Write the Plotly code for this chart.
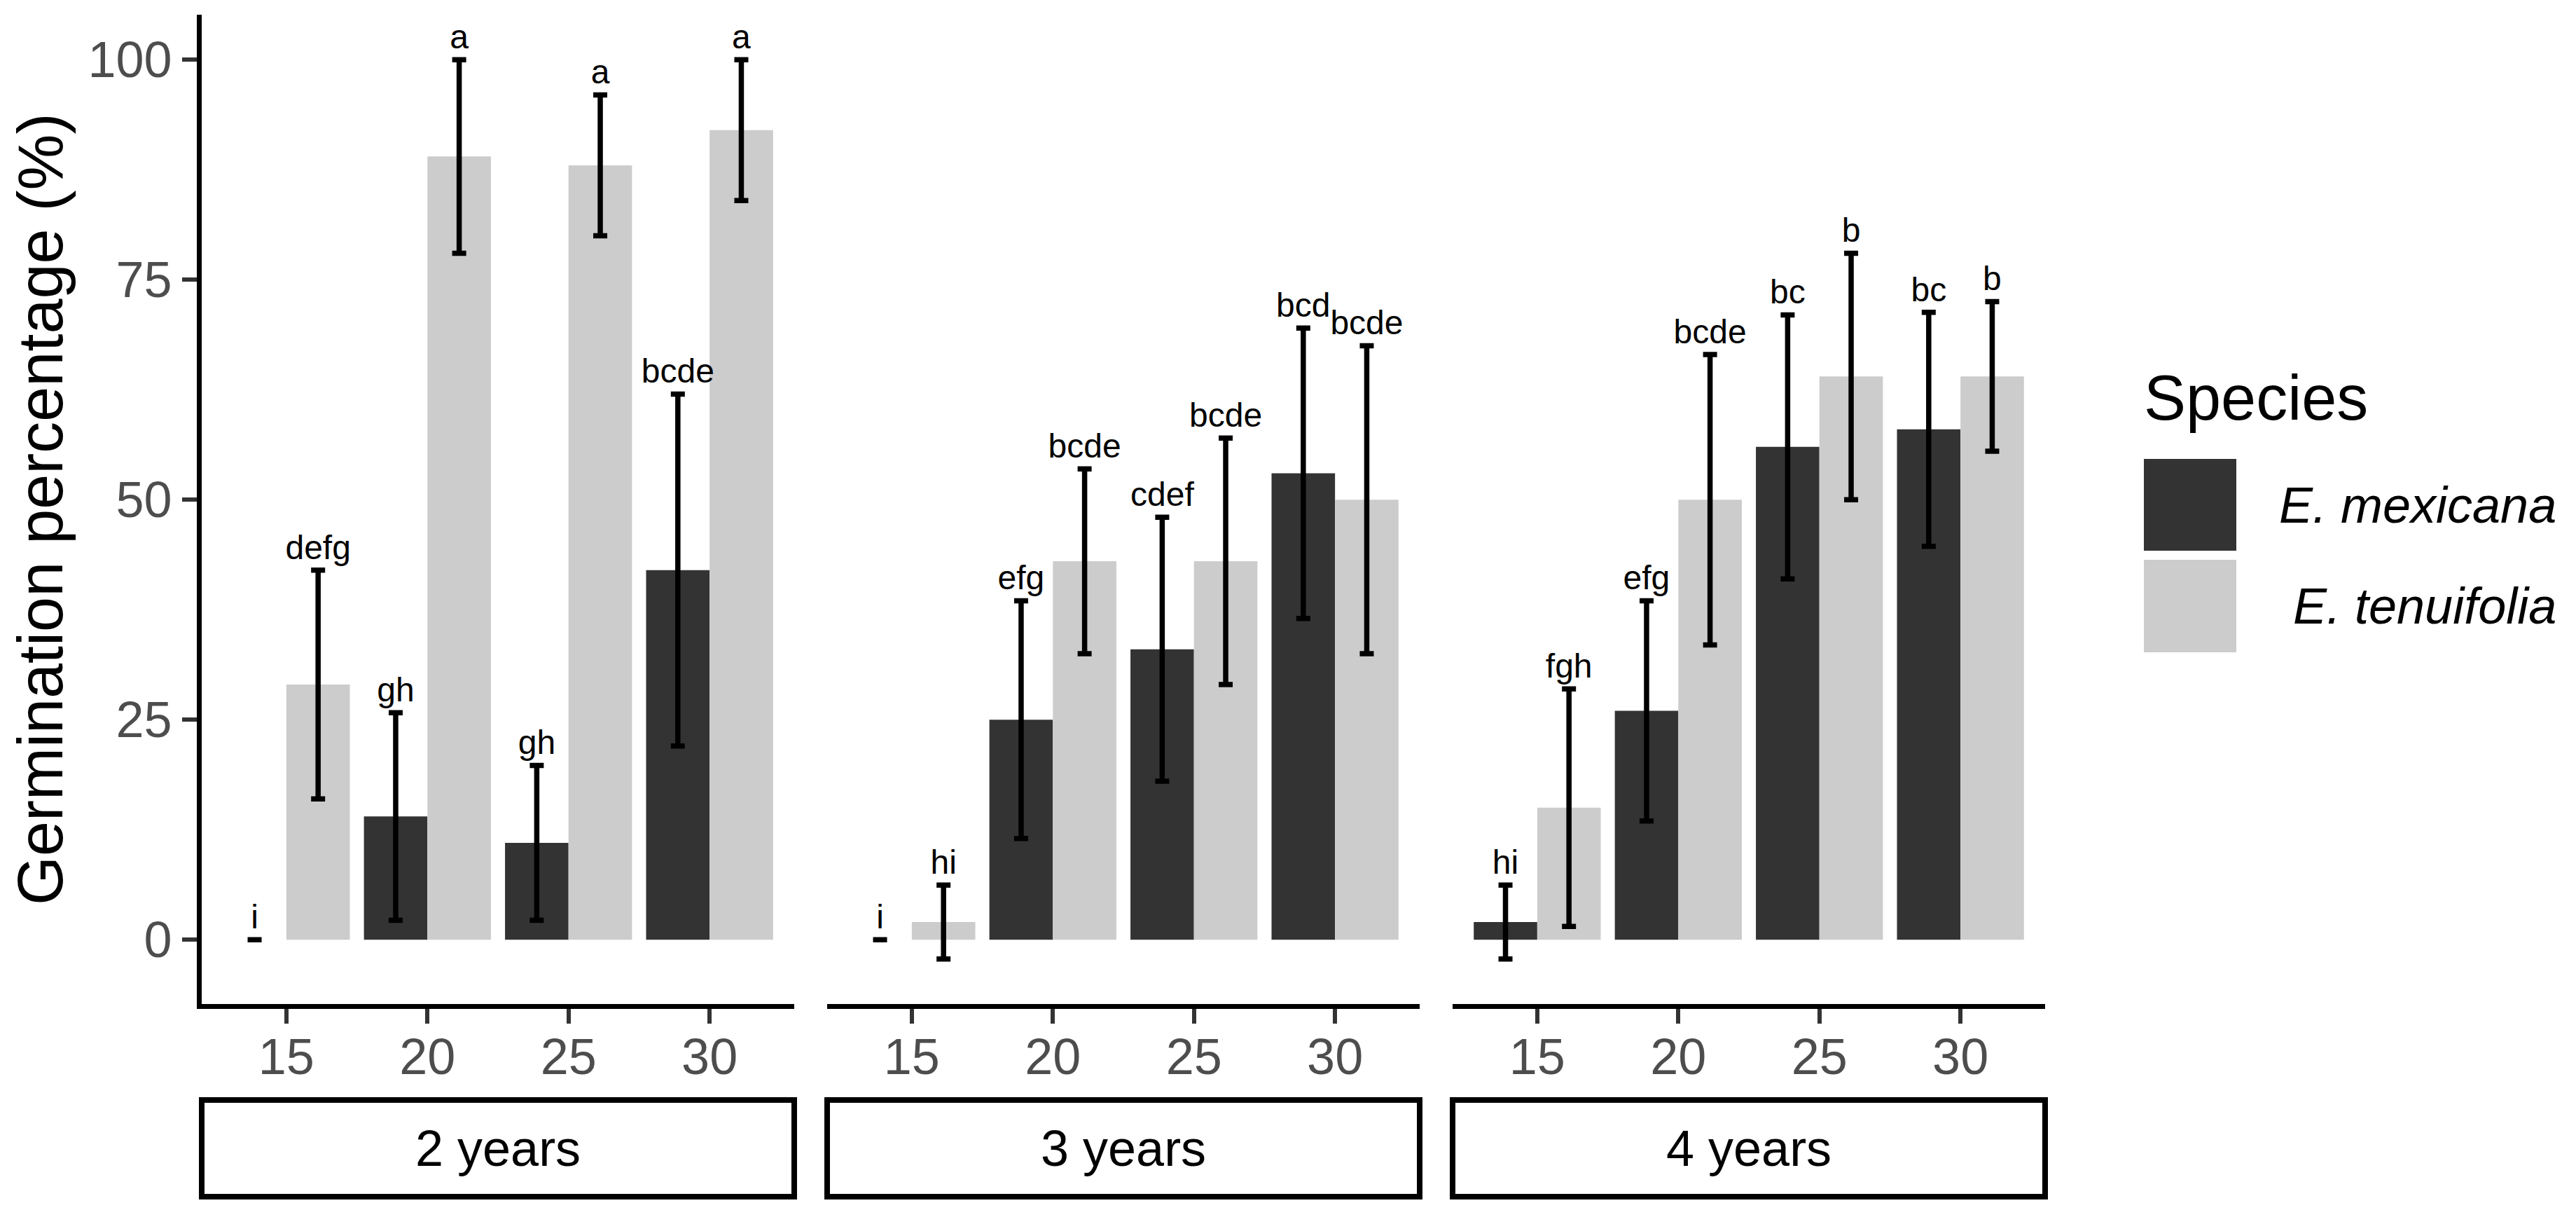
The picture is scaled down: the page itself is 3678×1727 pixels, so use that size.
import plotly.graph_objects as go
from plotly.subplots import make_subplots

# germination (%) by temperature, seed age and species
temps = ["15", "20", "25", "30"]
ages = ["2 years", "3 years", "4 years"]
species = ["E. mexicana", "E. tenuifolia"]
colors = ["#333333", "#CCCCCC"]

mex_2y = [0, 14, 11, 42]
mex_2y_lo = [0, 2.2, 2.2, 22]
mex_2y_hi = [0, 25.8, 19.8, 62]
ten_2y = [29, 89, 88, 92]
ten_2y_lo = [16, 78, 80, 84]
ten_2y_hi = [42, 100, 96, 100]

mex_3y = [0, 25, 33, 53]
mex_3y_lo = [0, 11.5, 18, 36.5]
mex_3y_hi = [0, 38.5, 48, 69.5]
ten_3y = [2, 43, 43, 50]
ten_3y_lo = [-2.2, 32.5, 29, 32.5]
ten_3y_hi = [6.2, 53.5, 57, 67.5]

mex_4y = [2, 26, 56, 58]
mex_4y_lo = [-2.2, 13.5, 41, 44.7]
mex_4y_hi = [6.2, 38.5, 71, 71.3]
ten_4y = [15, 50, 64, 64]
ten_4y_lo = [1.5, 33.5, 50, 55.5]
ten_4y_hi = [28.5, 66.5, 78, 72.5]

mex_2y_lab = ["i", "gh", "gh", "bcde"]
ten_2y_lab = ["defg", "a", "a", "a"]
mex_3y_lab = ["i", "efg", "cdef", "bcd"]
ten_3y_lab = ["hi", "bcde", "bcde", "bcde"]
mex_4y_lab = ["hi", "efg", "bc", "bc"]
ten_4y_lab = ["fgh", "bcde", "b", "b"]

panels = [
    [(mex_2y, mex_2y_lo, mex_2y_hi, mex_2y_lab), (ten_2y, ten_2y_lo, ten_2y_hi, ten_2y_lab)],
    [(mex_3y, mex_3y_lo, mex_3y_hi, mex_3y_lab), (ten_3y, ten_3y_lo, ten_3y_hi, ten_3y_lab)],
    [(mex_4y, mex_4y_lo, mex_4y_hi, mex_4y_lab), (ten_4y, ten_4y_lo, ten_4y_hi, ten_4y_lab)],
]

W, H = 3678, 1727
FONT = "Liberation Sans, Arial, sans-serif"

fig = make_subplots(rows=1, cols=3, shared_yaxes=True)

for col, panel in enumerate(panels, start=1):
    for k, (mean, lo, hi, lab) in enumerate(panel):
        fig.add_trace(
            go.Bar(
                x=temps,
                y=mean,
                name=species[k],
                offsetgroup=species[k],
                marker=dict(color=colors[k], line=dict(width=0)),
                error_y=dict(
                    type="data",
                    symmetric=False,
                    array=[h - m for h, m in zip(hi, mean)],
                    arrayminus=[m - l for m, l in zip(mean, lo)],
                    color="black",
                    thickness=7.5,
                    width=10,
                ),
                showlegend=False,
            ),
            row=1,
            col=col,
        )
        # significance letters above the error bars
        # (invisible marker just pushes the text up a little)
        fig.add_trace(
            go.Scatter(
                x=temps,
                y=hi,
                text=lab,
                mode="markers+text",
                marker=dict(size=5, opacity=0),
                textposition="top center",
                textfont=dict(family=FONT, size=48, color="black"),
                offsetgroup=species[k],
                cliponaxis=False,
                showlegend=False,
                hoverinfo="skip",
            ),
            row=1,
            col=col,
        )

domains = [(288, 1134), (1181, 2027), (2074, 2920)]
for i, (a, b) in enumerate(domains, start=1):
    fig.update_xaxes(
        domain=[a / W, b / W],
        type="category",
        range=[-0.6, 3.6],
        showline=True,
        linecolor="black",
        linewidth=7,
        ticks="outside",
        ticklen=21,
        tickwidth=5.5,
        tickcolor="#333333",
        ticklabelstandoff=-14,
        tickfont=dict(family=FONT, size=72, color="#4D4D4D"),
        showgrid=False,
        zeroline=False,
        row=1,
        col=i,
    )
    xref = "x domain" if i == 1 else "x%d domain" % i
    fig.add_shape(
        type="rect",
        xref=xref,
        yref="paper",
        x0=0,
        x1=1,
        y0=(H - 1708) / H,
        y1=(H - 1570) / H,
        line=dict(color="black", width=8),
        fillcolor="white",
    )
    fig.add_annotation(
        text=ages[i - 1],
        xref=xref,
        yref="paper",
        x=0.5,
        y=(H - 1639) / H,
        xanchor="center",
        yanchor="middle",
        showarrow=False,
        font=dict(family=FONT, size=72, color="black"),
    )

fig.update_yaxes(
    domain=[(H - 1433) / H, (H - 21) / H],
    range=[-7.31, 105.11],
    tickvals=[0, 25, 50, 75, 100],
    showgrid=False,
    zeroline=False,
)
fig.update_yaxes(
    showline=True,
    linecolor="black",
    linewidth=7,
    ticks="outside",
    ticklen=21,
    tickwidth=5.5,
    tickcolor="#333333",
    tickfont=dict(family=FONT, size=72, color="#4D4D4D"),
    row=1,
    col=1,
)
fig.update_yaxes(showline=False, ticks="", showticklabels=False, row=1, col=2)
fig.update_yaxes(showline=False, ticks="", showticklabels=False, row=1, col=3)

# y title
fig.add_annotation(
    text="Germination percentage (%)",
    xref="paper",
    yref="paper",
    x=58 / W,
    y=(H - 727) / H,
    xanchor="center",
    yanchor="middle",
    textangle=-90,
    showarrow=False,
    font=dict(family=FONT, size=90, color="black"),
)

# legend drawn by hand so the keys keep their large size
fig.add_annotation(
    text="Species",
    xref="paper",
    yref="paper",
    x=3059 / W,
    y=(H - 568) / H,
    xanchor="left",
    yanchor="middle",
    showarrow=False,
    font=dict(family=FONT, size=90, color="black"),
)
key_rows = [(655, 786), (799, 931)]
for k, (top, bot) in enumerate(key_rows):
    fig.add_shape(
        type="rect",
        xref="paper",
        yref="paper",
        x0=3061 / W,
        x1=3193 / W,
        y0=(H - bot) / H,
        y1=(H - top) / H,
        line=dict(width=0),
        fillcolor=colors[k],
    )
    fig.add_annotation(
        text="<i>%s</i>" % species[k],
        xref="paper",
        yref="paper",
        x=3652 / W,
        y=(H - (top + bot) / 2) / H,
        xanchor="right",
        yanchor="middle",
        showarrow=False,
        font=dict(family=FONT, size=72, color="black"),
    )

fig.update_layout(
    width=W,
    height=H,
    margin=dict(l=0, r=0, t=0, b=0),
    barmode="group",
    bargap=0.1,
    bargroupgap=0,
    scattermode="group",
    scattergap=0.1,
    plot_bgcolor="white",
    paper_bgcolor="white",
)

fig.write_html(
    "out.html",
    config={"displayModeBar": False},
    post_script="document.body.style.margin='0';",
)
